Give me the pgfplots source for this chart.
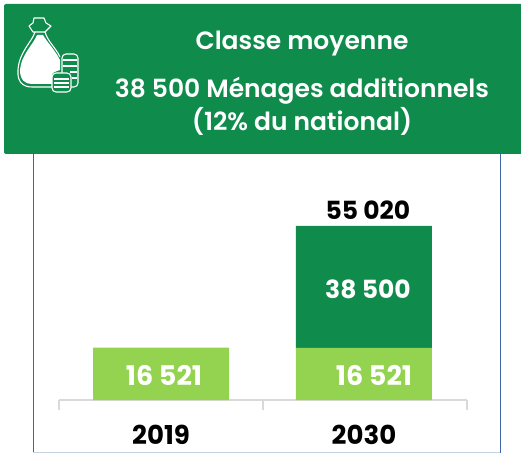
\documentclass[border=0pt]{standalone}
\usepackage{fontspec}
\setmainfont{Poppins}
\newfontfamily\headfont{Poppins SemiBold}
\usepackage{pgfplots}
\pgfplotsset{compat=1.18}
\definecolor{darkg}{HTML}{0F8B4C}
\definecolor{lightg}{HTML}{93D350}
\definecolor{frameb}{HTML}{3F67A8}
\definecolor{tickg}{HTML}{D9D9D9}
\newcommand{\lab}{\fontsize{25}{25}\selectfont\bfseries}
\newcommand{\labb}{\fontsize{27}{27}\selectfont\bfseries}
\newcommand{\laby}{\fontsize{26}{26}\selectfont\bfseries}
\newcommand{\head}{\fontsize{25}{25}\selectfont\headfont}

\begin{document}
\begin{tikzpicture}[x=1pt,y=1pt]
  \path[use as bounding box] (0,0) rectangle (521,453);
  % cadre
  \draw[frameb,line width=1pt] (33,300) -- (33,0.5);
  \draw[frameb,line width=1pt] (500,300) -- (500,0.5);
  \draw[frameb!30,line width=1pt] (33,0.5) -- (500,0.5);
  % bandeau
  \fill[darkg,rounded corners=2pt] (4,299) rectangle (523,449);
  \node[white] at (302,409) {\head Classe moyenne};
  \node[white] at (302,362) {\head 38 500 Ménages additionnels};
  \node[white] at (302,332) {\head (12\% du national)};
  % icone
  \begin{scope}[shift={(0,453)},yscale=-1,line width=1.1pt,white,line join=round]
    \draw (34,18) -- (44,18) -- (46,23) -- (51,26) -- (45,32) -- (33,32) -- (29,26) -- (33,23) -- cycle;
    \draw (35,32) .. controls (32,42) and (19,52) .. (18,70) .. controls (17,82) and (23,87) .. (32,87) -- (53,87);
    \draw (45,32) .. controls (48,42) and (56,48) .. (60,57);
    \fill (37,35) .. controls (33,45) and (21,55) .. (20,70) .. controls (20,80) and (25,84) .. (32,84) -- (52,84) -- (52,74) .. controls (55,71) and (58,71) .. (60,70) -- (60,60) .. controls (55,50) and (47,42) .. (43,35) -- cycle;
    \draw[rounded corners=4pt] (62,54) rectangle (78,87);
    \draw (63,60) -- (77,60) (63,66) -- (77,66) (70,72) -- (77,72) (72,78) -- (77,78);
    \draw[fill=darkg,rounded corners=4pt] (52,73) rectangle (71,92);
    \draw (54,79) -- (69,79) (54,83) -- (69,83) (54,87) -- (69,87);
  \end{scope}
  \begin{axis}[
      at={(59pt,53pt)},anchor=south west,
      scale only axis,width=408pt,height=174pt,
      ybar stacked,bar width=136pt,
      stacked ignores zero=false,
      xmin=-0.5,xmax=1.5,ymin=0,ymax=55020,
      axis x line=bottom,axis y line=none,
      axis line style={tickg,line width=1.5pt,-},
      xtick={-0.5,0.5,1.5},xticklabels={},
      extra x ticks={0,0.995},extra x tick labels={2019,2030},
      extra x tick style={major tick length=0pt,
        tick label style={font=\laby,text=black,yshift=-22pt}},
      major tick length=10pt,
      tick align=outside,
      x tick style={tickg,line width=1.5pt},
      clip=false,
      point meta=explicit symbolic,
      nodes near coords,
      every node near coord/.append style={anchor=center,font=\lab}]
    % les etiquettes empilees sont centrees dans chaque segment
    \addplot[fill=lightg,draw=none,
      every node near coord/.append style={white,font=\labb,xshift=3pt,yshift=-2pt}]
      coordinates {(0,16521)[16 521] (0.995,16521)[\kern14pt 16 521]};
    \addplot[fill=darkg,draw=none,
      every node near coord/.append style={white,xshift=4pt,yshift=-2pt}]
      coordinates {(0,0)[\relax] (0.995,38500)[38 500]};
    \addplot[fill=none,draw=none,
      every node near coord/.append style={black,xshift=4pt,yshift=16pt}]
      coordinates {(0,0)[\relax] (0.995,0)[55 020]};
  \end{axis}
\end{tikzpicture}
\end{document}
